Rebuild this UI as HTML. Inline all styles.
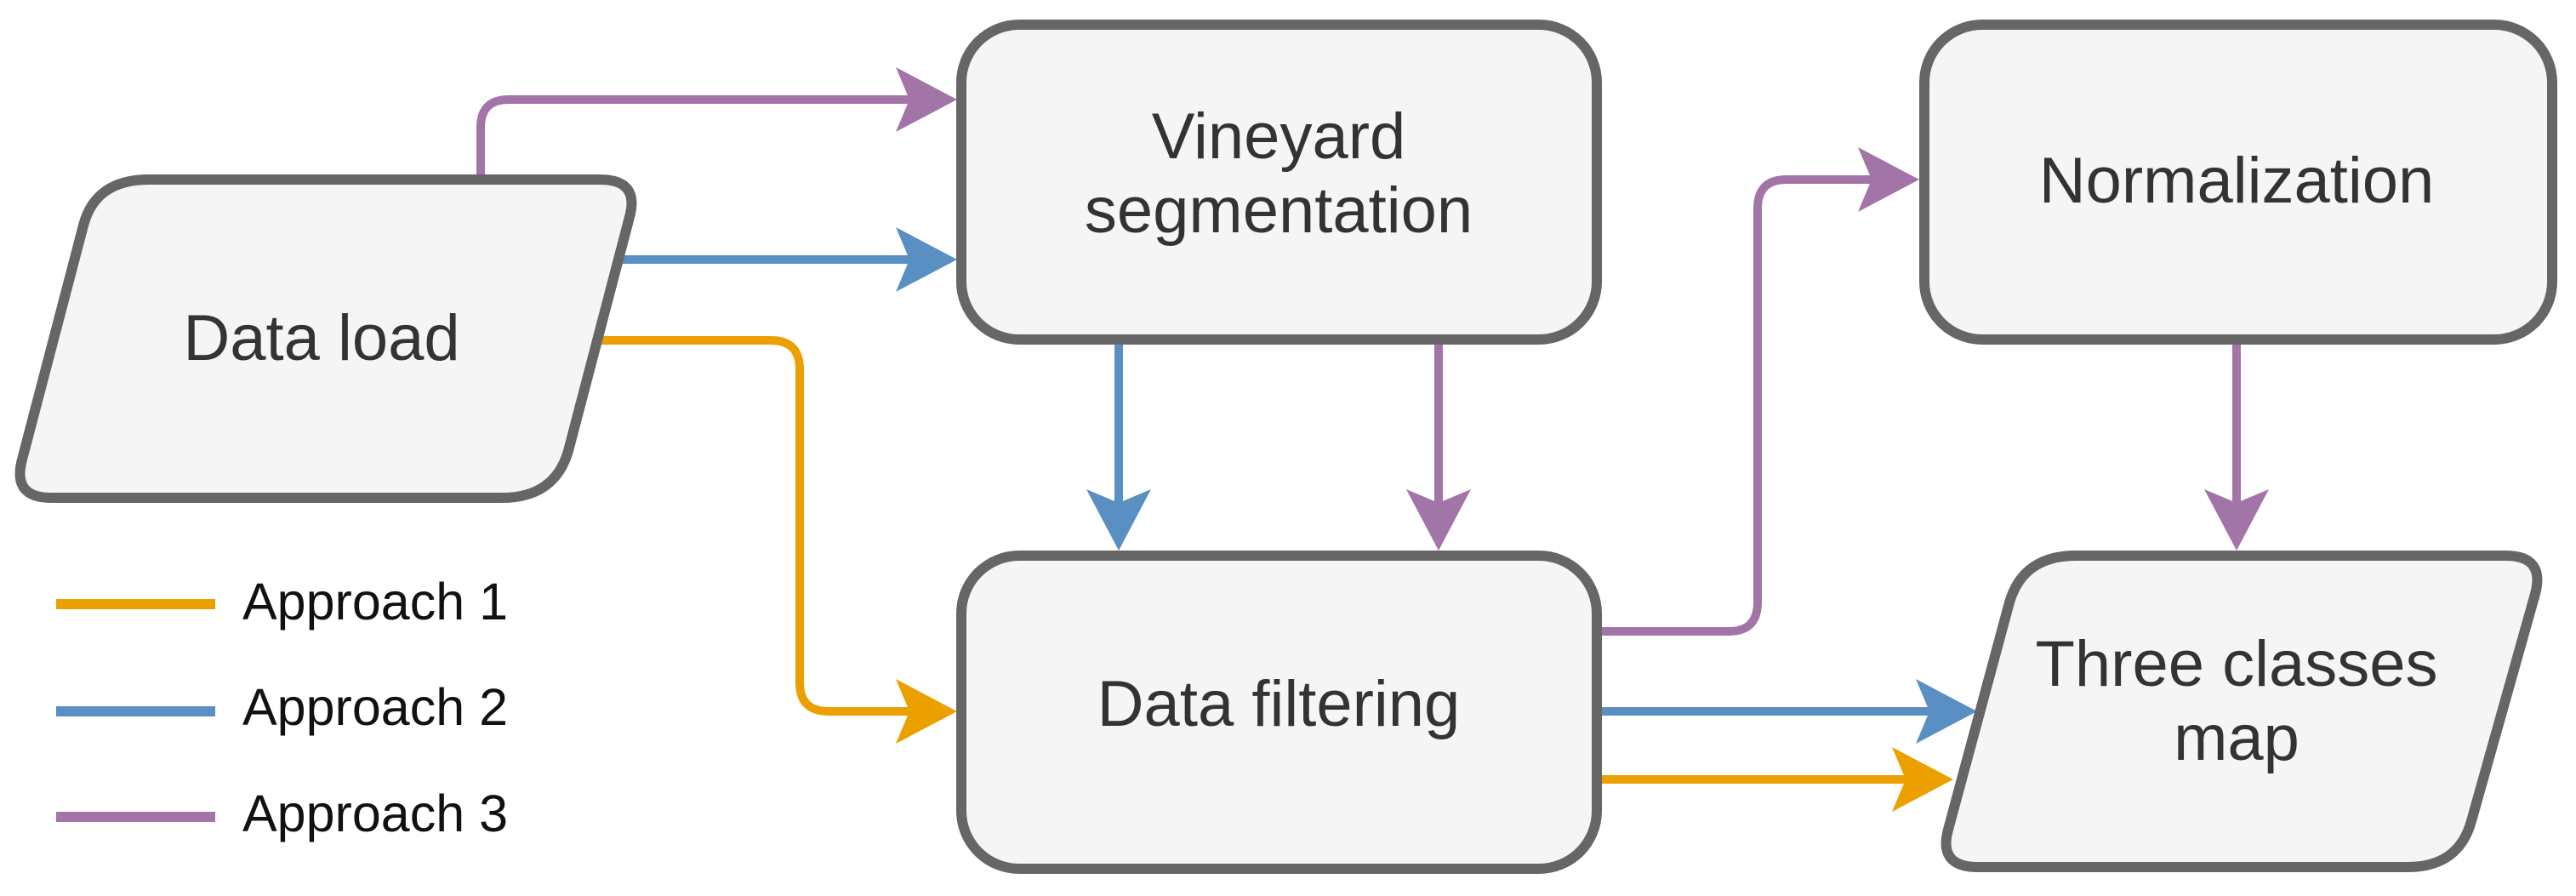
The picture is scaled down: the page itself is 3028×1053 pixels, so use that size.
<!DOCTYPE html>
<html><head><meta charset="utf-8"><style>html,body{margin:0;padding:0;background:#fff}svg{display:block}</style></head>
<body>
<svg width="3028" height="1053" viewBox="0 0 3028 1053" xmlns="http://www.w3.org/2000/svg" font-family="Liberation Sans, Arial, sans-serif">
<g fill="none" stroke-width="10" stroke-linejoin="round">
<path d="M565,210 L565,150 Q565,117 598,117 L1075,117" stroke="#A374A8"/>
<path d="M715,305 L1075,305" stroke="#5A8FC4"/>
<path d="M683,400 L906,400 Q940,400 940,434 L940,802 Q940,836 974,836 L1075,836" stroke="#EBA000"/>
<path d="M1315,400 L1315,597" stroke="#5A8FC4"/>
<path d="M1691,400 L1691,597" stroke="#A374A8"/>
<path d="M1881,742 L2032,742 Q2066,742 2066,708 L2066,245 Q2066,211 2100,211 L2206,211" stroke="#A374A8"/>
<path d="M2629,400 L2629,597" stroke="#A374A8"/>
<path d="M1881,836 L2274,836" stroke="#5A8FC4"/>
<path d="M1881,916 L2246,916" stroke="#EBA000"/>
</g>
<g>
<polygon points="1125,117 1053,79 1069,117 1053,155" fill="#A374A8"/>
<polygon points="1125,305 1053,267 1069,305 1053,343" fill="#5A8FC4"/>
<polygon points="1125,836 1053,798 1069,836 1053,874" fill="#EBA000"/>
<polygon points="2256,211 2184,173 2200,211 2184,249" fill="#A374A8"/>
<polygon points="2324,836 2252,798 2268,836 2252,874" fill="#5A8FC4"/>
<polygon points="2296,916 2224,878 2240,916 2224,954" fill="#EBA000"/>
<polygon points="1315,647 1277,575 1315,591 1353,575" fill="#5A8FC4"/>
<polygon points="1691,647 1653,575 1691,591 1729,575" fill="#A374A8"/>
<polygon points="2629,647 2591,575 2629,591 2667,575" fill="#A374A8"/>
</g>
<g fill="#F5F5F5" stroke="#666666" stroke-width="12" stroke-linejoin="round">
<path d="M240,211 L705,211 Q752,211 740,255 L668,530 Q652,585 590,585 L60,585 Q14,585 26,540 L98,265 Q112,211 175,211 Z"/>
<rect x="1130" y="29" width="747" height="370" rx="68"/>
<rect x="1130" y="653" width="747" height="368" rx="68"/>
<rect x="2262" y="29" width="738" height="370" rx="68"/>
<path d="M2525,653 L2945,653 Q2992,653 2980,698 L2905,965 Q2890,1019 2830,1019 L2325,1019 Q2278,1019 2290,975 L2362,708 Q2378,653 2440,653 Z"/>
</g>
<g fill="#333" font-size="76" text-anchor="middle">
<text x="378" y="423">Data load</text>
<text x="1503" y="186">Vineyard</text>
<text x="1503" y="273">segmentation</text>
<text x="1503" y="853">Data filtering</text>
<text x="2629" y="238">Normalization</text>
<text x="2629" y="806">Three classes</text>
<text x="2629" y="893">map</text>
</g>
<g stroke-width="12">
<line x1="66" y1="710" x2="253" y2="710" stroke="#EBA000"/>
<line x1="66" y1="836" x2="253" y2="836" stroke="#5A8FC4"/>
<line x1="66" y1="960" x2="253" y2="960" stroke="#A374A8"/>
</g>
<g fill="#111" font-size="61">
<text x="285" y="728">Approach 1</text>
<text x="285" y="852">Approach 2</text>
<text x="285" y="977">Approach 3</text>
</g>
</svg>
</body></html>
